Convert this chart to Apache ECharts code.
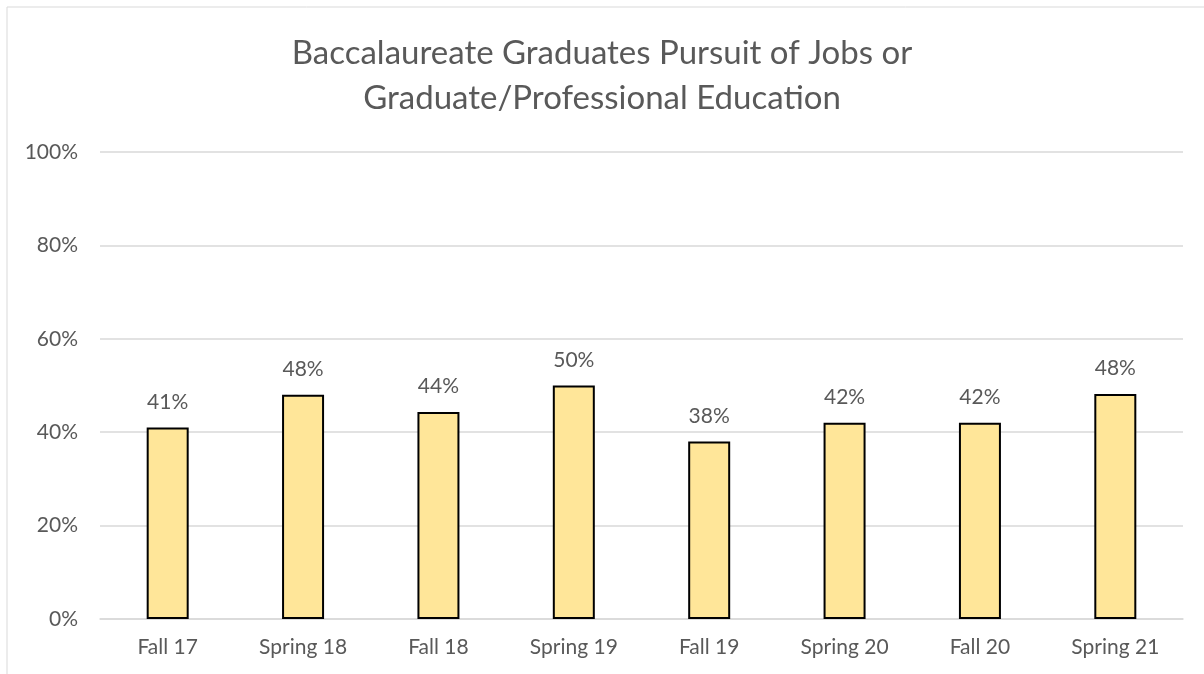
<!DOCTYPE html>
<html>
<head>
<meta charset="utf-8">
<style>
  html, body { margin: 0; padding: 0; background: #fff; }
  #chart { width: 1204px; height: 674px; }
</style>
<script src="https://cdn.jsdelivr.net/npm/echarts@6/dist/echarts.min.js"></script>
</head>
<body>
<div id="chart"></div>
<script>
const terms = ['Fall 17', 'Spring 18', 'Fall 18', 'Spring 19', 'Fall 19', 'Spring 20', 'Fall 20', 'Spring 21'];
const shares = [41, 48, 44.3, 50, 38, 42, 42, 48.2];
const pctTicks = [0, 20, 40, 60, 80, 100];

const font = 'Lato, "Open Sans", sans-serif';
const grey = '#595959';

const chart = echarts.init(document.getElementById('chart'));
chart.setOption({
  animation: false,
  backgroundColor: '#fff',
  graphic: [{
    type: 'rect',
    shape: { x: 7, y: 7, width: 1230, height: 700 },
    style: { fill: 'none', stroke: '#d9d9d9', lineWidth: 1 },
    silent: true
  }],
  title: {
    text: 'Baccalaureate Graduates Pursuit of Jobs or\nGraduate/Professional Education',
    left: 'center',
    top: 26,
    textStyle: { fontFamily: font, fontSize: 33, fontWeight: 'normal', color: grey, lineHeight: 45 }
  },
  grid: { left: 100, right: 21, top: 152, bottom: 55 },
  xAxis: {
    type: 'category',
    data: terms,
    axisLine: { lineStyle: { color: '#d9d9d9', width: 1.5 } },
    axisTick: { show: false },
    axisLabel: { fontFamily: font, fontSize: 21, color: grey, margin: 18 }
  },
  yAxis: {
    type: 'value',
    min: pctTicks[0],
    max: pctTicks[pctTicks.length - 1],
    interval: 20,
    axisLine: { show: false },
    axisTick: { show: false },
    splitLine: { lineStyle: { color: '#d9d9d9', width: 1.5 } },
    axisLabel: { fontFamily: font, fontSize: 21, color: grey, margin: 22, formatter: v => v + '%' }
  },
  series: [{
    type: 'bar',
    data: shares,
    barWidth: 42,
    itemStyle: { color: '#FFE699', borderColor: '#000', borderWidth: 2 },
    label: {
      show: true,
      position: 'top',
      distance: 15,
      fontFamily: font,
      fontSize: 21,
      color: grey,
      formatter: p => Math.round(p.value) + '%'
    }
  }]
});
window.addEventListener('resize', () => chart.resize());
</script>
</body>
</html>
